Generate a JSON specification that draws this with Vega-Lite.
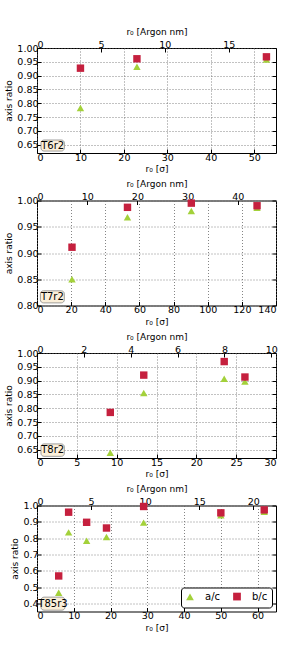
{
  "$schema": "https://vega.github.io/schema/vega-lite/v6.json",
  "padding": {"top": 26, "left": 4, "right": 2, "bottom": 2},
  "background": "white",
  "config": {
    "font": "DejaVu Sans",
    "view": {"stroke": "black", "strokeWidth": 1},
    "axis": {"labelFontSize": 9.5, "titleFontSize": 9, "titleFontWeight": "normal", "labelColor": "black", "titleColor": "black", "tickColor": "black", "domain": false, "tickSize": -4, "labelPadding": 3, "titlePadding": 3, "gridColor": "#666", "gridDash": [1, 2], "gridWidth": 0.8, "labelFont": "DejaVu Sans", "titleFont": "DejaVu Sans"},
    "legend": {"labelFontSize": 10, "labelFont": "DejaVu Sans", "labelColor": "black"}
  },
  "datasets": {
    "d": [
      {"panel": "T6r2", "series": "a/c", "r0": 10, "ratio": 0.783},
      {"panel": "T6r2", "series": "a/c", "r0": 23, "ratio": 0.932},
      {"panel": "T6r2", "series": "a/c", "r0": 52.8, "ratio": 0.958},
      {"panel": "T6r2", "series": "b/c", "r0": 10, "ratio": 0.927},
      {"panel": "T6r2", "series": "b/c", "r0": 23, "ratio": 0.961},
      {"panel": "T6r2", "series": "b/c", "r0": 52.8, "ratio": 0.968},
      {"panel": "T7r2", "series": "a/c", "r0": 20.5, "ratio": 0.85},
      {"panel": "T7r2", "series": "a/c", "r0": 53, "ratio": 0.968},
      {"panel": "T7r2", "series": "a/c", "r0": 90.4, "ratio": 0.98},
      {"panel": "T7r2", "series": "a/c", "r0": 128.9, "ratio": 0.986},
      {"panel": "T7r2", "series": "b/c", "r0": 20.5, "ratio": 0.911},
      {"panel": "T7r2", "series": "b/c", "r0": 53, "ratio": 0.987},
      {"panel": "T7r2", "series": "b/c", "r0": 90.4, "ratio": 0.995},
      {"panel": "T7r2", "series": "b/c", "r0": 128.9, "ratio": 0.99},
      {"panel": "T8r2", "series": "a/c", "r0": 9.2, "ratio": 0.639},
      {"panel": "T8r2", "series": "a/c", "r0": 13.4, "ratio": 0.855},
      {"panel": "T8r2", "series": "a/c", "r0": 23.5, "ratio": 0.907},
      {"panel": "T8r2", "series": "a/c", "r0": 26.1, "ratio": 0.897},
      {"panel": "T8r2", "series": "b/c", "r0": 9.2, "ratio": 0.785},
      {"panel": "T8r2", "series": "b/c", "r0": 13.4, "ratio": 0.92},
      {"panel": "T8r2", "series": "b/c", "r0": 23.5, "ratio": 0.969},
      {"panel": "T8r2", "series": "b/c", "r0": 26.1, "ratio": 0.913},
      {"panel": "T85r3", "series": "a/c", "r0": 5.9, "ratio": 0.465},
      {"panel": "T85r3", "series": "a/c", "r0": 8.6, "ratio": 0.835},
      {"panel": "T85r3", "series": "a/c", "r0": 13.5, "ratio": 0.784},
      {"panel": "T85r3", "series": "a/c", "r0": 18.9, "ratio": 0.807},
      {"panel": "T85r3", "series": "a/c", "r0": 29, "ratio": 0.895},
      {"panel": "T85r3", "series": "a/c", "r0": 50, "ratio": 0.94},
      {"panel": "T85r3", "series": "a/c", "r0": 61.8, "ratio": 0.962},
      {"panel": "T85r3", "series": "b/c", "r0": 5.9, "ratio": 0.568},
      {"panel": "T85r3", "series": "b/c", "r0": 8.6, "ratio": 0.959},
      {"panel": "T85r3", "series": "b/c", "r0": 13.5, "ratio": 0.897},
      {"panel": "T85r3", "series": "b/c", "r0": 18.9, "ratio": 0.862},
      {"panel": "T85r3", "series": "b/c", "r0": 29, "ratio": 0.994},
      {"panel": "T85r3", "series": "b/c", "r0": 50, "ratio": 0.955},
      {"panel": "T85r3", "series": "b/c", "r0": 61.8, "ratio": 0.973}
    ]
  },
  "spacing": 4.5,
  "resolve": {"scale": {"color": "independent", "shape": "independent"}, "legend": {"color": "independent", "shape": "independent"}},
  "vconcat": [
    {
      "width": 239, "height": 105,
      "layer": [
        {
          "encoding": {
            "x": {"type": "quantitative", "scale": {"domain": [0, 55], "nice": false}, "axis": {"orient": "bottom", "title": "r₀ [σ]", "values": [0, 10, 20, 30, 40, 50], "grid": true}},
            "y": {"type": "quantitative", "scale": {"domain": [0.62, 1.0], "nice": false, "zero": false}, "axis": {"title": "axis ratio", "values": [0.65, 0.7, 0.75, 0.8, 0.85, 0.9, 0.95, 1.0], "format": ".2f", "grid": true}}
          },
          "layer": [
            {
              "data": {"values": [{"label": "T6r2"}]},
              "mark": {"type": "rect", "fill": "#fbefd9", "stroke": "#888", "strokeWidth": 0.8, "cornerRadius": 3},
              "encoding": {"x": {"datum": 0.92, "type": "quantitative"}, "x2": {"datum": 6.3}, "y": {"datum": 0.667, "type": "quantitative"}, "y2": {"datum": 0.627}}
            },
            {
              "data": {"values": [{"label": "T6r2"}]},
              "mark": {"type": "text", "fontSize": 10, "font": "DejaVu Sans", "color": "black", "align": "center", "baseline": "middle"},
              "encoding": {"x": {"datum": 3.6, "type": "quantitative"}, "y": {"datum": 0.647, "type": "quantitative"}, "text": {"field": "label"}}
            },
            {
              "data": {"name": "d"},
              "transform": [{"filter": "datum.panel == 'T6r2'"}],
              "mark": {"type": "point", "filled": true, "opacity": 1, "size": 55},
              "encoding": {
                "x": {"field": "r0", "type": "quantitative"},
                "y": {"field": "ratio", "type": "quantitative"},
                "color": {"field": "series", "type": "nominal", "scale": {"domain": ["a/c", "b/c"], "range": ["#a3d13a", "#c5203e"]}, "legend": null},
                "shape": {"field": "series", "type": "nominal", "scale": {"domain": ["a/c", "b/c"], "range": ["triangle-up", "square"]}, "legend": null}
              }
            }
          ]
        },
        {
          "data": {"name": "d"},
          "transform": [{"filter": "datum.panel == 'T6r2'"}],
          "mark": {"type": "point", "opacity": 0, "clip": true},
          "encoding": {
            "x": {"field": "r0", "type": "quantitative", "scale": {"domain": [0, 18.7], "nice": false}, "axis": {"orient": "top", "title": "r₀ [Argon nm]", "values": [0, 5, 10, 15], "format": "d", "grid": false}},
            "y": {"field": "ratio", "type": "quantitative", "axis": {"orient": "right", "labels": false, "title": null, "grid": false, "values": [0.65, 0.7, 0.75, 0.8, 0.85, 0.9, 0.95, 1.0]}}
          }
        }
      ],
      "resolve": {"scale": {"x": "independent"}, "axis": {"x": "independent", "y": "independent"}}
    },
    {
      "width": 239, "height": 105,
      "layer": [
        {
          "encoding": {
            "x": {"type": "quantitative", "scale": {"domain": [0, 140], "nice": false}, "axis": {"orient": "bottom", "title": "r₀ [σ]", "values": [0, 20, 40, 60, 80, 100, 120, 140], "grid": true}},
            "y": {"type": "quantitative", "scale": {"domain": [0.8, 1.0], "nice": false, "zero": false}, "axis": {"title": "axis ratio", "values": [0.8, 0.85, 0.9, 0.95, 1.0], "format": ".2f", "grid": true}}
          },
          "layer": [
            {
              "data": {"values": [{"label": "T7r2"}]},
              "mark": {"type": "rect", "fill": "#fbefd9", "stroke": "#888", "strokeWidth": 0.8, "cornerRadius": 3},
              "encoding": {"x": {"datum": 2.0, "type": "quantitative"}, "x2": {"datum": 16.0}, "y": {"datum": 0.828, "type": "quantitative"}, "y2": {"datum": 0.805}}
            },
            {
              "data": {"values": [{"label": "T7r2"}]},
              "mark": {"type": "text", "fontSize": 10, "font": "DejaVu Sans", "color": "black", "align": "center", "baseline": "middle"},
              "encoding": {"x": {"datum": 9.0, "type": "quantitative"}, "y": {"datum": 0.8165, "type": "quantitative"}, "text": {"field": "label"}}
            },
            {
              "data": {"name": "d"},
              "transform": [{"filter": "datum.panel == 'T7r2'"}],
              "mark": {"type": "point", "filled": true, "opacity": 1, "size": 55},
              "encoding": {
                "x": {"field": "r0", "type": "quantitative"},
                "y": {"field": "ratio", "type": "quantitative"},
                "color": {"field": "series", "type": "nominal", "scale": {"domain": ["a/c", "b/c"], "range": ["#a3d13a", "#c5203e"]}, "legend": null},
                "shape": {"field": "series", "type": "nominal", "scale": {"domain": ["a/c", "b/c"], "range": ["triangle-up", "square"]}, "legend": null}
              }
            }
          ]
        },
        {
          "data": {"name": "d"},
          "transform": [{"filter": "datum.panel == 'T7r2'"}],
          "mark": {"type": "point", "opacity": 0, "clip": true},
          "encoding": {
            "x": {"field": "r0", "type": "quantitative", "scale": {"domain": [0, 47.6], "nice": false}, "axis": {"orient": "top", "title": "r₀ [Argon nm]", "values": [0, 10, 20, 30, 40], "format": "d", "grid": false}},
            "y": {"field": "ratio", "type": "quantitative", "axis": {"orient": "right", "labels": false, "title": null, "grid": false, "values": [0.8, 0.85, 0.9, 0.95, 1.0]}}
          }
        }
      ],
      "resolve": {"scale": {"x": "independent"}, "axis": {"x": "independent", "y": "independent"}}
    },
    {
      "width": 239, "height": 105,
      "layer": [
        {
          "encoding": {
            "x": {"type": "quantitative", "scale": {"domain": [0, 30], "nice": false}, "axis": {"orient": "bottom", "title": "r₀ [σ]", "values": [0, 5, 10, 15, 20, 25, 30], "grid": true}},
            "y": {"type": "quantitative", "scale": {"domain": [0.62, 1.0], "nice": false, "zero": false}, "axis": {"title": "axis ratio", "values": [0.65, 0.7, 0.75, 0.8, 0.85, 0.9, 0.95, 1.0], "format": ".2f", "grid": true}}
          },
          "layer": [
            {
              "data": {"values": [{"label": "T8r2"}]},
              "mark": {"type": "rect", "fill": "#fbefd9", "stroke": "#888", "strokeWidth": 0.8, "cornerRadius": 3},
              "encoding": {"x": {"datum": 0.5, "type": "quantitative"}, "x2": {"datum": 3.43}, "y": {"datum": 0.671, "type": "quantitative"}, "y2": {"datum": 0.626}}
            },
            {
              "data": {"values": [{"label": "T8r2"}]},
              "mark": {"type": "text", "fontSize": 10, "font": "DejaVu Sans", "color": "black", "align": "center", "baseline": "middle"},
              "encoding": {"x": {"datum": 1.97, "type": "quantitative"}, "y": {"datum": 0.648, "type": "quantitative"}, "text": {"field": "label"}}
            },
            {
              "data": {"name": "d"},
              "transform": [{"filter": "datum.panel == 'T8r2'"}],
              "mark": {"type": "point", "filled": true, "opacity": 1, "size": 55},
              "encoding": {
                "x": {"field": "r0", "type": "quantitative"},
                "y": {"field": "ratio", "type": "quantitative"},
                "color": {"field": "series", "type": "nominal", "scale": {"domain": ["a/c", "b/c"], "range": ["#a3d13a", "#c5203e"]}, "legend": null},
                "shape": {"field": "series", "type": "nominal", "scale": {"domain": ["a/c", "b/c"], "range": ["triangle-up", "square"]}, "legend": null}
              }
            }
          ]
        },
        {
          "data": {"name": "d"},
          "transform": [{"filter": "datum.panel == 'T8r2'"}],
          "mark": {"type": "point", "opacity": 0, "clip": true},
          "encoding": {
            "x": {"field": "r0", "type": "quantitative", "scale": {"domain": [0, 10.2], "nice": false}, "axis": {"orient": "top", "title": "r₀ [Argon nm]", "values": [0, 2, 4, 6, 8, 10], "format": "d", "grid": false}},
            "y": {"field": "ratio", "type": "quantitative", "axis": {"orient": "right", "labels": false, "title": null, "grid": false, "values": [0.65, 0.7, 0.75, 0.8, 0.85, 0.9, 0.95, 1.0]}}
          }
        }
      ],
      "resolve": {"scale": {"x": "independent"}, "axis": {"x": "independent", "y": "independent"}}
    },
    {
      "width": 239, "height": 106,
      "layer": [
        {
          "encoding": {
            "x": {"type": "quantitative", "scale": {"domain": [0, 65], "nice": false}, "axis": {"orient": "bottom", "title": "r₀ [σ]", "values": [0, 10, 20, 30, 40, 50, 60], "grid": true}},
            "y": {"type": "quantitative", "scale": {"domain": [0.35, 1.0], "nice": false, "zero": false}, "axis": {"title": "axis ratio", "values": [0.4, 0.5, 0.6, 0.7, 0.8, 0.9, 1.0], "format": ".1f", "grid": true}}
          },
          "layer": [
            {
              "data": {"values": [{"label": "T85r3"}]},
              "mark": {"type": "rect", "fill": "#fbefd9", "stroke": "#888", "strokeWidth": 0.8, "cornerRadius": 3},
              "encoding": {"x": {"datum": 1.09, "type": "quantitative"}, "x2": {"datum": 7.6}, "y": {"datum": 0.438, "type": "quantitative"}, "y2": {"datum": 0.358}}
            },
            {
              "data": {"values": [{"label": "T85r3"}]},
              "mark": {"type": "text", "fontSize": 10, "font": "DejaVu Sans", "color": "black", "align": "center", "baseline": "middle"},
              "encoding": {"x": {"datum": 4.35, "type": "quantitative"}, "y": {"datum": 0.398, "type": "quantitative"}, "text": {"field": "label"}}
            },
            {
              "data": {"name": "d"},
              "transform": [{"filter": "datum.panel == 'T85r3'"}],
              "mark": {"type": "point", "filled": true, "opacity": 1, "size": 55},
              "encoding": {
                "x": {"field": "r0", "type": "quantitative"},
                "y": {"field": "ratio", "type": "quantitative"},
                "color": {"field": "series", "type": "nominal", "scale": {"domain": ["a/c", "b/c"], "range": ["#a3d13a", "#c5203e"]}, "legend": {"title": null, "orient": "bottom-right", "direction": "horizontal", "strokeColor": "black", "fillColor": "white", "padding": 4, "cornerRadius": 3, "symbolSize": 60, "columnPadding": 10, "labelOffset": 10, "offset": 4, "symbolOpacity": 1}},
                "shape": {"field": "series", "type": "nominal", "scale": {"domain": ["a/c", "b/c"], "range": ["triangle-up", "square"]}, "legend": {"title": null, "orient": "bottom-right", "direction": "horizontal", "strokeColor": "black", "fillColor": "white", "padding": 4, "cornerRadius": 3, "symbolSize": 60, "columnPadding": 10, "labelOffset": 10, "offset": 4, "symbolOpacity": 1}}
              }
            }
          ]
        },
        {
          "data": {"name": "d"},
          "transform": [{"filter": "datum.panel == 'T85r3'"}],
          "mark": {"type": "point", "opacity": 0, "clip": true},
          "encoding": {
            "x": {"field": "r0", "type": "quantitative", "scale": {"domain": [0, 22.1], "nice": false}, "axis": {"orient": "top", "title": "r₀ [Argon nm]", "values": [0, 5, 10, 15, 20], "format": "d", "grid": false}},
            "y": {"field": "ratio", "type": "quantitative", "axis": {"orient": "right", "labels": false, "title": null, "grid": false, "values": [0.4, 0.5, 0.6, 0.7, 0.8, 0.9, 1.0]}}
          }
        }
      ],
      "resolve": {"scale": {"x": "independent"}, "axis": {"x": "independent", "y": "independent"}}
    }
  ]
}
